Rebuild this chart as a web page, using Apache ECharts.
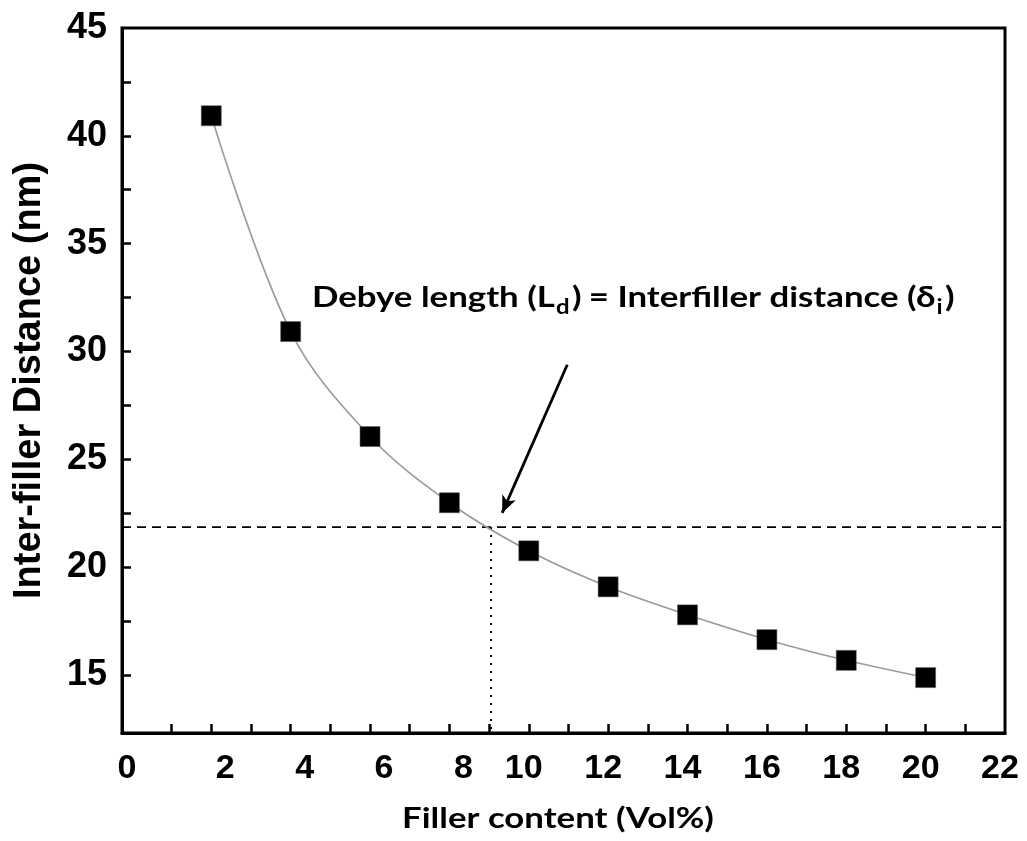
<!DOCTYPE html>
<html>
<head>
<meta charset="utf-8">
<script src="https://cdn.jsdelivr.net/npm/echarts@6/dist/echarts.min.js"></script>
<style>html,body{margin:0;padding:0;background:#fff;}#c{width:1027px;height:841px;}</style>
</head>
<body>
<div id="c"></div>
<script>
// Data
var fillerContent = [2, 4, 6, 8, 10, 12, 14, 16, 18, 20];
var interDistance = [40.93, 30.92, 26.05, 22.98, 20.75, 19.08, 17.78, 16.63, 15.67, 14.87];
var xTickLabels = [0, 2, 4, 6, 8, 10, 12, 14, 16, 18, 20, 22];
var xTicks = [1, 2, 3, 4, 5, 6, 7, 8, 9, 10, 11, 12, 13, 14, 15, 16, 17, 18, 19, 20, 21];
var yTickLabels = [15, 20, 25, 30, 35, 40, 45];
var yTicks = [15, 17.5, 20, 22.5, 25, 27.5, 30, 32.5, 35, 37.5, 40, 42.5];
var debyeY = 21.85;          // horizontal reference (Debye length)
var debyeX = 9.05;           // intersection filler content
var arrowFrom = [10.97, 29.38];
var arrowTo = [9.33, 22.51];
var xMin = -0.25, xMax = 22, yMin = 12.3, yMax = 45;

var chart = echarts.init(document.getElementById('c'), null, {renderer: 'canvas'});
var option = {
  backgroundColor: '#fff',
  animation: false,
  grid: {left: 122, right: 22, top: 28, bottom: 108, show: true, borderColor: '#000', borderWidth: 3, outerBoundsMode: 'none', containLabel: false},
  xAxis: {
    type: 'value', min: xMin, max: xMax,
    axisLine: {show: true, onZero: false, lineStyle: {color: '#000', width: 3}},
    axisTick: {show: true, inside: true, length: 9, customValues: xTicks, lineStyle: {color: '#000', width: 2.5}},
    axisLabel: {
      customValues: xTickLabels, margin: 19,
      fontFamily: 'Liberation Sans', fontWeight: 'bold', fontSize: 34, color: '#000',
      formatter: function (v) { return (v >= 2 && v <= 8) ? '{s|' + v + '}' : '{d|' + v + '}'; },
      rich: {
        s: {fontFamily: 'Liberation Sans', fontWeight: 'bold', fontSize: 34, color: '#000', padding: [0, 0, 0, 28]},
        d: {fontFamily: 'Liberation Sans', fontWeight: 'bold', fontSize: 34, color: '#000', padding: [0, 10, 0, 0]}
      }
    },
    splitLine: {show: false}
  },
  yAxis: {
    type: 'value', min: yMin, max: yMax,
    name: 'Inter-filler Distance (nm)', nameLocation: 'middle', nameGap: 73,
    nameTextStyle: {fontFamily: 'Liberation Sans', fontWeight: 'bold', fontSize: 38, color: '#000'},
    axisLine: {show: true, onZero: false, lineStyle: {color: '#000', width: 3}},
    axisTick: {show: true, inside: true, length: 9, customValues: yTicks, lineStyle: {color: '#000', width: 2.5}},
    axisLabel: {customValues: yTickLabels, margin: 15, fontFamily: 'Liberation Sans', fontWeight: 'bold', fontSize: 36, color: '#000'},
    splitLine: {show: false}
  },
  series: [
    {
      type: 'line', name: 'ref-h', silent: true, symbol: 'none',
      data: [[xMin, debyeY], [xMax, debyeY]],
      lineStyle: {color: '#000', width: 1.6, type: [9, 6]}, z: 1
    },
    {
      type: 'line', name: 'ref-v', silent: true, symbol: 'none',
      data: [[debyeX, debyeY], [debyeX, yMin]],
      lineStyle: {color: '#000', width: 2, type: [2, 6]}, z: 1
    },
    {
      type: 'line', name: 'data', smooth: 0.35,
      data: fillerContent.map(function (x, i) { return [x, interDistance[i]]; }),
      symbol: 'rect', symbolSize: 20,
      itemStyle: {color: '#000', borderColor: '#555', borderWidth: 0.5},
      lineStyle: {color: '#9a9a9a', width: 1.6}, z: 3,
      markLine: {
        silent: true, symbol: ['none', 'arrow'], symbolSize: [11, 17],
        label: {show: false},
        lineStyle: {color: '#000', width: 2.8, type: 'solid'},
        data: [[{coord: arrowFrom}, {coord: arrowTo}]]
      }
    }
  ],
  graphic: [
    {
      type: 'text', x: 312, y: 278, scaleX: 1.2, silent: true,
      style: {
        text: '{a|Debye length (L}{sub|d}{a|)}{eq|= Interfiller distance (δ}{sub|i}{a|)}',
        rich: {
          a: {fontFamily: 'Lato', fontWeight: 'bold', fontSize: 29, lineHeight: 40, fill: '#000'},
          eq: {fontFamily: 'Lato', fontWeight: 'bold', fontSize: 29, lineHeight: 40, fill: '#000', padding: [0, 0, 0, 6]},
          sub: {fontFamily: 'Lato', fontWeight: 'bold', fontSize: 20, lineHeight: 20, padding: [20, 2, 0, 1], fill: '#000'}
        }
      }
    },
    {
      type: 'text', x: 558, y: 804, scaleX: 1.2, silent: true,
      style: {
        text: 'Filler content (Vol%)', textAlign: 'center', textVerticalAlign: 'top',
        fontFamily: 'Lato', fontWeight: 'bold', fontSize: 29, fill: '#000'
      }
    }
  ]
};
chart.setOption(option);
</script>
</body>
</html>
